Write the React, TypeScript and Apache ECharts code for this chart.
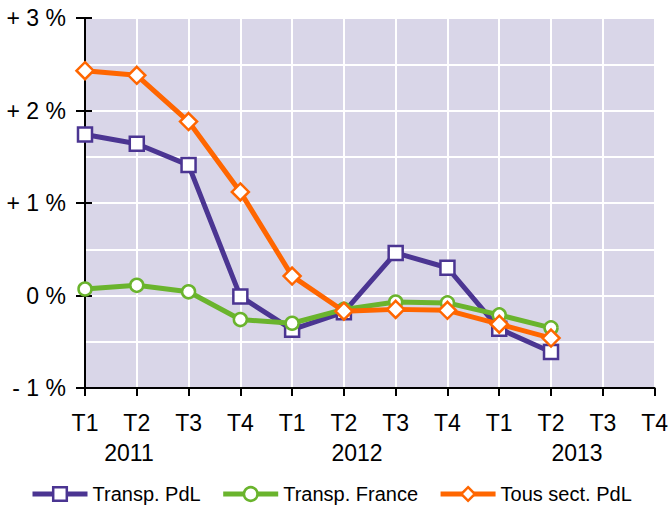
import React, { useEffect, useRef } from "react";
import * as echarts from "echarts";

const quarters = ["T1", "T2", "T3", "T4", "T1", "T2", "T3", "T4", "T1", "T2", "T3", "T4"];
const years = ["2011", "2012", "2013"];
const transpPdL = [1.74, 1.64, 1.41, -0.01, -0.37, -0.18, 0.46, 0.3, -0.36, -0.61, null, null];
const transpFrance = [0.07, 0.11, 0.04, -0.26, -0.3, -0.15, -0.07, -0.08, -0.21, -0.35, null, null];
const tousSectPdL = [2.43, 2.38, 1.88, 1.12, 0.21, -0.17, -0.15, -0.16, -0.31, -0.46, null, null];
const seriesNames = ["Transp. PdL", "Transp. France", "Tous sect. PdL"];
const colors = ["#4b3592", "#6ab42d", "#ff6600"];

const FONT = "'Liberation Sans', Arial, sans-serif";

export default function App() {
  const ref = useRef<HTMLDivElement>(null);
  useEffect(() => {
    if (!ref.current) return;
    const chart = echarts.init(ref.current, undefined, { renderer: "svg" });
    const yearX = [129, 357, 577];
    const mk = (i: number, data: (number | null)[], symbol: string, size: number) => ({
      name: seriesNames[i],
      type: "line",
      data,
      symbol,
      symbolSize: size,
      showAllSymbol: true,
      lineStyle: { color: colors[i], width: 5 },
      itemStyle: { color: "#ffffff", borderColor: colors[i], borderWidth: 2.5 },
      z: 3 + i,
    });
    chart.setOption({
      animation: false,
      textStyle: { fontFamily: FONT },
      grid: {
        left: 85,
        right: 14,
        top: 18,
        bottom: 118,
        show: true,
        backgroundColor: "#d9d6e8",
        borderWidth: 0,
      },
      xAxis: {
        type: "category",
        data: quarters,
        boundaryGap: false,
        axisLine: { onZero: false, lineStyle: { color: "#000", width: 2 } },
        axisTick: { show: true, length: 8, lineStyle: { color: "#000", width: 2 } },
        axisLabel: { color: "#000", fontSize: 23, margin: 23, fontFamily: FONT },
        splitLine: { show: true, lineStyle: { color: "#ffffff", width: 2 } },
      },
      yAxis: [
        {
          type: "value",
          min: -1,
          max: 3,
          interval: 1,
          axisLine: { show: true, lineStyle: { color: "#000", width: 2 } },
          axisTick: { show: true, length: 9, lineStyle: { color: "#000", width: 2 } },
          axisLabel: {
            color: "#000",
            fontSize: 23,
            margin: 19,
            fontFamily: FONT,
            formatter: (v: number) => (v > 0 ? "+ " + v + " %" : v < 0 ? "- " + Math.abs(v) + " %" : "0 %"),
          },
          splitLine: { show: true, lineStyle: { color: "#ffffff", width: 2 } },
          minorTick: { show: false, splitNumber: 2 },
          minorSplitLine: { show: true, lineStyle: { color: "#ffffff", width: 2 } },
        },
        {
          type: "value",
          min: -1,
          max: 3,
          interval: 1,
          position: "left",
          axisLine: { show: false },
          axisTick: { show: true, inside: true, length: 7, lineStyle: { color: "#000", width: 2 } },
          axisLabel: { show: false },
          splitLine: { show: false },
        },
      ],
      legend: {
        data: seriesNames,
        left: 30,
        top: 484,
        padding: 0,
        itemWidth: 55,
        itemHeight: 17,
        itemGap: 20,
        lineStyle: { width: 5 },
        itemStyle: { borderWidth: 2.5 },
        textStyle: { color: "#000", fontSize: 20, fontFamily: FONT },
      },
      graphic: years.map((y, i) => ({
        type: "text",
        x: yearX[i],
        y: 453,
        style: {
          text: y,
          fill: "#000",
          font: "23px " + FONT,
          textAlign: "center",
          textVerticalAlign: "middle",
        },
      })),
      series: [
        mk(0, transpPdL, "rect", 14),
        mk(1, transpFrance, "circle", 13),
        mk(2, tousSectPdL, "diamond", 17),
      ],
    });
    return () => chart.dispose();
  }, []);
  return <div ref={ref} style={{ width: 671, height: 506, position: "absolute", left: 0, top: 0 }} />;
}
